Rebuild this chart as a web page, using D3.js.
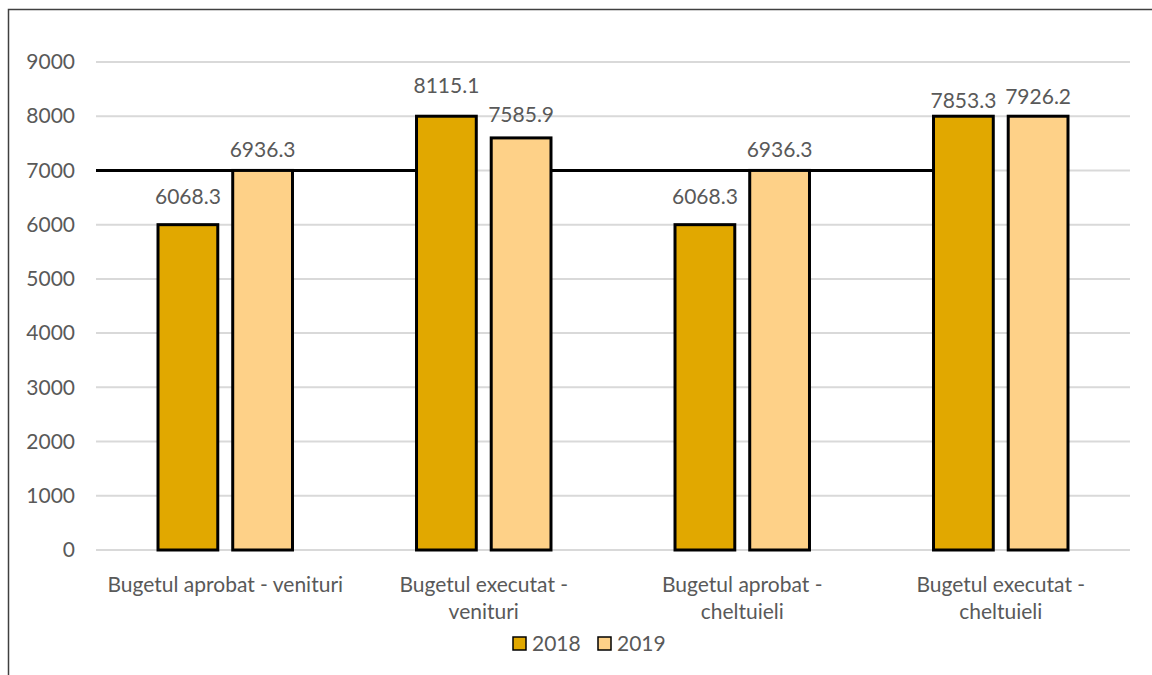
<!DOCTYPE html>
<html>
<head>
<meta charset="utf-8">
<script src="https://cdn.jsdelivr.net/npm/d3@7"></script>
<style>
  html, body { margin: 0; padding: 0; background: #fff; }
  svg text { font-family: Lato, "Open Sans", sans-serif; fill: #595959; }
</style>
</head>
<body>
<div id="chart"></div>
<script>
const width = 1152;
const height = 675;

// categorii (cu randuri pe etichete)
const categories = [
  ["Bugetul aprobat - venituri"],
  ["Bugetul executat -", "venituri"],
  ["Bugetul aprobat -", "cheltuieli"],
  ["Bugetul executat -", "cheltuieli"],
];
const series = ["2018", "2019"];
const seriesColors = ["#E1A800", "#FED188"];

// inaltimea barelor
const heights2018 = [6000, 8000, 6000, 8000];
const heights2019 = [7000, 7600, 7000, 8000];

// etichetele de date afisate
const labels2018 = [6068.3, 8115.1, 6068.3, 7853.3];
const labels2019 = [6936.3, 7585.9, 6936.3, 7926.2];

const yTicks = [0, 1000, 2000, 3000, 4000, 5000, 6000, 7000, 8000, 9000];
const refLine = 7000;

const fontSize = 21;
const margin = { top: 62, right: 22, bottom: 125, left: 96 };

const svg = d3
  .select("#chart")
  .append("svg")
  .attr("width", width)
  .attr("height", height);

// chenar
svg
  .append("rect")
  .attr("x", 8.5)
  .attr("y", 9.5)
  .attr("width", width + 20)
  .attr("height", height + 20)
  .attr("fill", "none")
  .attr("stroke", "#404040")
  .attr("stroke-width", 1.5);

const catIdx = categories.map((d, i) => i);

const x0 = d3
  .scaleBand()
  .domain(catIdx)
  .range([margin.left, width - margin.right])
  .padding(0);

const x1 = d3
  .scaleBand()
  .domain(series)
  .range([0, x0.bandwidth()])
  .paddingInner(0.2)
  .paddingOuter(0.83);

const y = d3
  .scaleLinear()
  .domain([0, 9000])
  .range([height - margin.bottom, margin.top]);

// grila
svg
  .append("g")
  .selectAll("line")
  .data(yTicks)
  .enter()
  .append("line")
  .attr("x1", margin.left)
  .attr("x2", width - margin.right)
  .attr("y1", (d) => y(d))
  .attr("y2", (d) => y(d))
  .attr("stroke", "#d9d9d9")
  .attr("stroke-width", 2);

// eticheta axa y
const yAxis = svg
  .append("g")
  .attr("transform", `translate(${margin.left - 21}, 0)`)
  .call(
    d3.axisLeft(y).tickValues(yTicks).tickFormat(d3.format("d")).tickSize(0).tickPadding(0)
  );
yAxis.select(".domain").remove();
yAxis
  .selectAll("text")
  .attr("font-size", fontSize)
  .style("font-family", "Lato, sans-serif")
  .attr("fill", "#595959");

// linia neagra de la 7000
const yr = y(refLine);
const segs = [
  [margin.left, x0(1) + x1("2018")],
  [x0(1) + x1("2019") + x1.bandwidth(), x0(3) + x1("2018")],
];
svg
  .append("g")
  .selectAll("line")
  .data(segs)
  .enter()
  .append("line")
  .attr("x1", (d) => d[0])
  .attr("x2", (d) => d[1])
  .attr("y1", yr)
  .attr("y2", yr)
  .attr("stroke", "#000")
  .attr("stroke-width", 3);

// bare
const barData = [];
catIdx.forEach((i) => {
  barData.push({ cat: i, s: "2018", h: heights2018[i], label: labels2018[i], color: seriesColors[0] });
  barData.push({ cat: i, s: "2019", h: heights2019[i], label: labels2019[i], color: seriesColors[1] });
});

svg
  .append("g")
  .selectAll("rect")
  .data(barData)
  .enter()
  .append("rect")
  .attr("x", (d) => x0(d.cat) + x1(d.s))
  .attr("y", (d) => y(d.h))
  .attr("width", x1.bandwidth())
  .attr("height", (d) => y(0) - y(d.h))
  .attr("fill", (d) => d.color)
  .attr("stroke", "#000")
  .attr("stroke-width", 3);

// etichete de date
svg
  .append("g")
  .selectAll("text")
  .data(barData)
  .enter()
  .append("text")
  .attr("x", (d) => x0(d.cat) + x1(d.s) + x1.bandwidth() / 2)
  .attr("y", (d) => y(d.label) - 24)
  .attr("dy", "0.35em")
  .attr("text-anchor", "middle")
  .attr("font-size", fontSize)
  .text((d) => d.label.toFixed(1));

// etichete categorii
const catLabels = svg
  .append("g")
  .selectAll("text")
  .data(categories)
  .enter()
  .append("text")
  .attr("x", (d, i) => x0(i) + x0.bandwidth() / 2)
  .attr("y", 585)
  .attr("text-anchor", "middle")
  .attr("font-size", fontSize);

catLabels
  .selectAll("tspan")
  .data((d) => d)
  .enter()
  .append("tspan")
  .attr("x", function () {
    return d3.select(this.parentNode).attr("x");
  })
  .attr("dy", (d, i) => (i === 0 ? "0.35em" : 27))
  .text((d) => d);

// legenda
const legendX = [513, 598];
const legend = svg
  .append("g")
  .selectAll("g")
  .data(series)
  .enter()
  .append("g")
  .attr("transform", (d, i) => `translate(${legendX[i]}, 637)`);

legend
  .append("rect")
  .attr("width", 13)
  .attr("height", 13)
  .attr("fill", (d, i) => seriesColors[i])
  .attr("stroke", "#000")
  .attr("stroke-width", 1.5);

legend
  .append("text")
  .attr("x", 19)
  .attr("y", 6.5)
  .attr("dy", "0.35em")
  .attr("font-size", fontSize)
  .text((d) => d);
</script>
</body>
</html>
